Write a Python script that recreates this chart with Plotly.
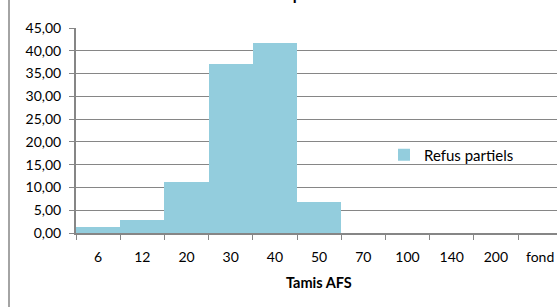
import plotly.graph_objects as go

categories = ["6", "12", "20", "30", "40", "50", "70", "100", "140", "200", "fond"]
refus_partiels = [1.3, 2.8, 11.1, 37.0, 41.8, 6.9, 0, 0, 0, 0, 0]
series_name = "Refus partiels"
x_title = "Tamis AFS"
chart_title = "Refus partiels"

W, H = 557, 307
ml, mr, mt, mb = 76, 0, 28, 74
pw = W - ml - mr
ph = H - mt - mb
cat_w = 44.2
font = "Lato, 'Open Sans', sans-serif"

fig = go.Figure()
fig.add_trace(go.Bar(
    x=categories, y=refus_partiels, name=series_name,
    marker=dict(color="#93CDDD", line=dict(width=0)),
    showlegend=True,
))

fig.update_layout(
    width=W, height=H,
    margin=dict(l=ml, r=mr, t=mt, b=mb, pad=0, autoexpand=False),
    paper_bgcolor="white", plot_bgcolor="white",
    bargap=0,
    separators=", ",
    font=dict(family=font, size=14, color="#000000"),
    showlegend=True,
    legend=dict(x=(384 - ml) / pw, y=(233 - 155) / ph, xanchor="left", yanchor="middle",
                font=dict(size=15, family=font), bgcolor="rgba(0,0,0,0)",
                itemwidth=30, tracegroupgap=0),
    xaxis=dict(
        type="category", range=[-0.5, -0.5 + pw / cat_w], automargin=False,
        showgrid=False, showline=True, linecolor="#868686", linewidth=2,
        ticks="outside", tickson="boundaries", ticklen=5, tickcolor="#868686", tickwidth=1,
        tickfont=dict(size=14, family=font), fixedrange=True, ticklabelstandoff=10,
    ),
    yaxis=dict(
        range=[0, 45], dtick=5, tickformat=".2f", automargin=False,
        showgrid=True, gridcolor="#868686", gridwidth=1,
        showline=True, linecolor="#868686", linewidth=2,
        ticks="outside", ticklen=5, tickcolor="#868686", ticklabelstandoff=5,
        tickfont=dict(size=14, family=font), zeroline=False,
    ),
    annotations=[
        dict(text="<b>" + x_title + "</b>", xref="paper", yref="paper",
             x=(319 - ml) / pw, y=(233 - 282) / ph, xanchor="center", yanchor="middle",
             showarrow=False, font=dict(size=14.5, family=font)),
        dict(text="<b>" + chart_title + "</b>", xref="paper", yref="paper",
             x=(297 - ml) / pw, y=(233 + 7) / ph, xanchor="center", yanchor="middle",
             showarrow=False, font=dict(size=16, family=font)),
    ],
    shapes=[
        dict(type="line", xref="paper", yref="paper",
             x0=(9 - ml) / pw, x1=(9 - ml) / pw, y0=-2, y1=2,
             line=dict(color="#868686", width=1.5)),
    ],
)

fig.write_html("out.html", post_script="document.body.style.margin='0';",
               config={"displayModeBar": False})
